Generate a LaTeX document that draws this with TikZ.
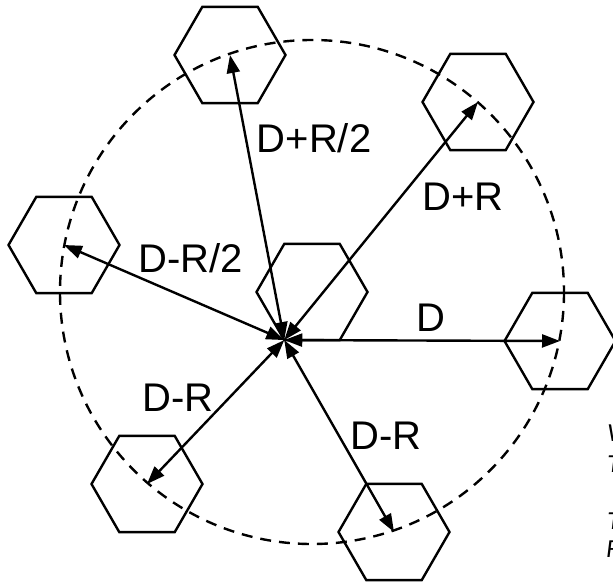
\documentclass[tikz,border=0pt]{standalone}
\usepackage{fontspec}
\setmainfont{Liberation Sans}
\newfontfamily\notefont{Carlito}
\usetikzlibrary{shapes.geometric,arrows.meta}
\tikzset{
  hexcell/.style={draw, regular polygon, regular polygon sides=6, minimum size=55.5pt,
    inner sep=0pt, outer sep=0pt, line width=1.2pt},
  reach/.style={line width=1.2pt, {Triangle[length=9pt,width=6.5pt]}-{Triangle[length=9pt,width=6.5pt]}},
  ring/.style={line width=1.2pt, dash pattern=on 5.5pt off 4pt},
  lbl/.style={inner sep=0pt, anchor=base, font=\fontsize{20}{24}\selectfont},
  note/.style={inner sep=0pt, anchor=base west, font=\notefont\itshape\fontsize{13}{15}\selectfont}
}

\begin{document}
\begin{tikzpicture}[x=0.5pt,y=-0.5pt]
\useasboundingbox (0,0) rectangle (613,582);
% cells
\node [hexcell] (hexC) at (312,292) {};
\node [hexcell] (hexE) at (560,341) {};
\node [hexcell] (hexNE) at (478,102) {};
\node [hexcell] (hexN) at (230,55) {};
\node [hexcell] (hexW) at (64,245) {};
\node [hexcell] (hexSW) at (147,484) {};
\node [hexcell] (hexS) at (394,532) {};
\coordinate (hub) at (hexC.240);
% ring of radius D
\draw [ring] (hexC.center) circle [radius=252];
% distances
\draw [reach] (hub) -- (hexE.center);
\draw [reach] (hub) -- (hexNE.center);
\draw [reach] (hub) -- (hexN.center);
\draw [reach] (hub) -- (hexW.center);
\draw [reach] (hub) -- (hexSW.center);
\draw [reach] (hub) -- (hexS.center);
\node [lbl] (lblE) at (431,331) {D};
\node [lbl] (lblNE) at (463,211) {D+R};
\node [lbl] (lblN) at (314,153) {D+R/2};
\node [lbl] (lblW) at (191,272) {D-R/2};
\node [lbl] (lblSW) at (178,411) {D-R};
\node [lbl] (lblS) at (386,449) {D-R};
% notes cut at the edge
\node [note] (noteA) at (607,441) {W};
\node [note] (noteB) at (607,472) {T};
\node [note] (noteC) at (607,529) {T};
\node [note] (noteD) at (606,557) {F};
\end{tikzpicture}
\end{document}
